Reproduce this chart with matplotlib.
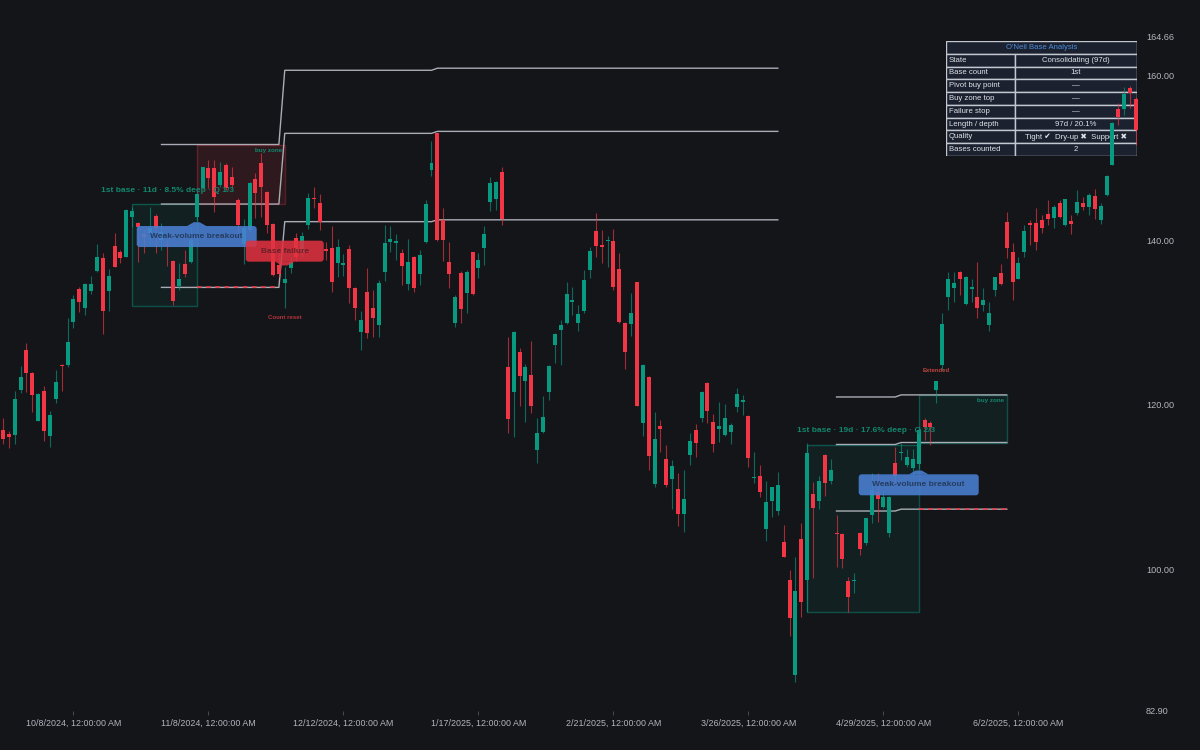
"""O'Neil base analysis chart: daily candles, base boxes, pivot levels and a status table."""

import numpy as np
import pandas as pd
import matplotlib
matplotlib.use("Agg")
import matplotlib.pyplot as plt
from matplotlib.patches import Rectangle, FancyBboxPatch, Polygon
from matplotlib.transforms import Affine2D

# ---------------------------------------------------------------- data
START_DATE = "2024-09-20"
HOLIDAYS = ["2024-11-28", "2024-12-25", "2025-01-01", "2025-01-09", "2025-01-20",
            "2025-02-17", "2025-04-18", "2025-05-26", "2025-06-19"]

OPEN = [
    116.97, 116.44, 116.36, 121.82, 126.67, 123.88, 118.10, 121.66, 116.28, 120.73,
    124.89, 124.81, 130.10, 134.02, 131.76, 133.82, 136.28, 137.78, 133.86, 139.27,
    138.54, 137.98, 142.75, 142.02, 140.70, 140.80, 142.90, 140.00, 139.40, 137.49,
    134.46, 137.09, 137.29, 142.80, 146.27, 148.69, 148.69, 146.67, 149.10, 147.60,
    144.85, 139.50, 141.22, 147.36, 149.30, 145.86, 141.94, 137.00, 134.83, 136.57,
    140.30, 138.50, 141.82, 145.14, 144.53, 138.87, 139.00, 137.26, 136.97, 138.87,
    134.15, 128.89, 133.74, 131.72, 129.70, 136.16, 139.80, 139.60, 138.46, 134.67,
    137.98, 135.88, 139.80, 148.48, 152.93, 142.42, 137.29, 129.90, 135.96, 133.54,
    138.50, 136.57, 139.07, 144.60, 144.93, 148.28, 124.65, 121.62, 126.46, 122.95,
    123.64, 114.54, 116.77, 121.62, 127.27, 129.09, 129.90, 132.44, 129.90, 131.43,
    136.36, 141.13, 139.39, 139.88, 139.92, 136.45, 129.90, 129.82, 134.87, 117.86,
    123.44, 110.42, 117.46, 113.41, 111.03, 109.78, 106.79, 113.94, 116.97, 118.38,
    122.71, 117.94, 117.09, 116.36, 116.77, 119.72, 120.40, 118.67, 111.19, 111.39,
    104.93, 108.41, 107.19, 103.44, 98.79, 87.27, 103.72, 98.79, 109.21, 108.40,
    113.94, 110.83, 104.53, 104.36, 98.71, 98.67, 104.44, 103.31, 106.67, 109.49,
    107.68, 104.44, 113.01, 114.14, 112.73, 112.32, 112.85, 118.18, 117.78, 121.82,
    124.85, 133.05, 134.14, 136.16, 132.24, 134.10, 133.05, 132.12, 129.69, 133.94,
    135.96, 142.22, 138.58, 135.27, 138.58, 142.10, 142.10, 142.42, 143.15, 142.62,
    144.52, 141.81, 142.34, 143.23, 144.44, 143.96, 145.33, 142.42, 145.45, 149.09,
    155.83, 155.83, 158.38, 157.05,
]
HIGH = [
    118.46, 116.81, 121.66, 124.77, 127.51, 123.96, 121.41, 122.26, 119.23, 124.20,
    124.93, 130.50, 133.33, 134.34, 134.83, 135.64, 139.51, 138.38, 136.48, 140.81,
    138.79, 143.72, 144.04, 142.18, 141.30, 144.00, 143.20, 142.10, 140.00, 137.55,
    137.17, 138.79, 141.62, 145.90, 148.89, 149.70, 149.70, 149.50, 149.30, 148.89,
    145.05, 142.50, 147.08, 148.09, 150.51, 145.94, 142.02, 138.60, 136.77, 137.78,
    140.80, 141.00, 145.74, 146.47, 145.58, 139.80, 141.70, 140.08, 138.31, 139.40,
    134.35, 131.44, 136.57, 133.94, 135.16, 141.82, 141.70, 140.73, 138.87, 140.12,
    138.06, 138.79, 144.85, 152.04, 153.01, 143.84, 139.76, 133.33, 136.24, 136.36,
    138.58, 138.38, 141.70, 147.60, 147.19, 148.80, 128.28, 129.01, 126.87, 124.97,
    127.80, 118.38, 121.09, 124.81, 128.69, 130.30, 134.87, 134.26, 132.12, 136.36,
    139.11, 143.31, 141.21, 140.53, 141.33, 138.47, 130.10, 133.54, 134.95, 124.97,
    123.52, 119.15, 118.18, 115.19, 113.33, 111.72, 112.12, 116.65, 117.66, 121.74,
    122.79, 118.91, 120.32, 120.12, 117.86, 122.10, 121.21, 118.75, 114.34, 112.73,
    110.79, 110.10, 111.84, 105.46, 100.00, 101.62, 105.74, 115.35, 110.71, 111.39,
    114.06, 113.41, 106.67, 104.44, 99.19, 99.60, 104.65, 106.34, 111.72, 111.72,
    109.70, 108.97, 114.87, 115.35, 114.63, 114.63, 117.37, 118.46, 118.06, 122.95,
    131.11, 136.16, 136.16, 136.28, 135.64, 135.23, 137.37, 134.14, 132.52, 135.55,
    137.09, 143.43, 139.59, 137.98, 141.82, 142.42, 143.83, 143.03, 144.84, 144.24,
    144.84, 145.01, 143.03, 146.06, 145.25, 145.73, 146.14, 144.52, 147.87, 154.34,
    156.56, 158.50, 158.66, 157.37,
]
LOW = [
    115.27, 114.75, 115.27, 121.49, 121.62, 119.11, 118.02, 115.68, 114.95, 120.20,
    121.70, 124.65, 129.29, 131.27, 130.87, 133.49, 136.16, 128.61, 131.43, 136.69,
    137.17, 137.90, 141.62, 137.37, 138.40, 139.50, 138.40, 138.80, 136.80, 132.10,
    133.94, 135.47, 137.17, 142.30, 146.19, 146.27, 143.44, 146.47, 146.06, 146.47,
    140.81, 137.10, 141.02, 142.63, 142.83, 140.81, 135.64, 135.50, 131.72, 135.96,
    137.50, 138.00, 141.30, 143.84, 141.22, 137.58, 133.74, 135.56, 135.68, 132.41,
    130.31, 126.67, 128.08, 128.29, 128.29, 135.07, 138.60, 137.57, 134.54, 133.94,
    133.74, 134.54, 139.60, 147.76, 139.92, 137.49, 134.14, 129.41, 129.98, 131.19,
    133.33, 135.35, 136.97, 143.55, 143.64, 141.82, 116.57, 116.16, 119.88, 117.98,
    119.07, 112.93, 116.57, 120.60, 125.05, 124.85, 129.82, 130.91, 129.01, 131.11,
    135.35, 137.90, 137.17, 136.77, 133.94, 129.98, 124.32, 128.37, 119.88, 116.28,
    112.12, 110.02, 114.34, 110.02, 107.35, 105.33, 104.61, 112.73, 113.66, 117.98,
    117.86, 114.34, 115.56, 116.28, 115.27, 119.19, 118.79, 112.53, 110.51, 108.89,
    103.52, 106.38, 106.67, 101.54, 92.00, 86.46, 94.34, 94.95, 98.99, 107.35,
    108.97, 110.42, 100.32, 100.20, 94.95, 97.17, 101.82, 103.03, 105.66, 105.86,
    107.47, 103.96, 110.71, 113.33, 112.44, 111.23, 112.20, 115.76, 115.15, 120.20,
    124.24, 131.51, 132.53, 133.33, 132.12, 132.53, 130.50, 131.43, 129.00, 133.21,
    134.54, 137.77, 132.72, 135.23, 137.90, 139.39, 138.78, 140.80, 141.81, 141.41,
    142.62, 141.73, 140.72, 143.03, 143.63, 143.03, 142.50, 141.94, 145.33, 149.05,
    153.94, 155.15, 155.96, 151.51,
]
CLOSE = [
    115.84, 116.12, 120.73, 123.35, 123.92, 121.25, 121.33, 116.85, 118.75, 122.75,
    124.73, 127.64, 132.85, 132.48, 134.71, 134.71, 137.98, 131.43, 135.64, 136.77,
    137.82, 143.64, 143.47, 141.53, 140.40, 141.50, 141.40, 141.00, 139.30, 132.65,
    135.31, 135.88, 140.00, 145.60, 148.81, 147.48, 145.26, 148.29, 146.27, 146.67,
    141.82, 141.50, 146.95, 145.74, 146.47, 141.82, 135.76, 135.90, 135.24, 137.38,
    138.00, 140.50, 145.05, 144.93, 142.23, 138.63, 134.95, 139.20, 137.26, 134.15,
    131.80, 130.31, 128.77, 130.51, 134.75, 139.60, 140.12, 139.88, 136.85, 137.37,
    134.14, 138.18, 144.36, 149.37, 140.00, 140.00, 135.84, 133.13, 131.63, 136.16,
    133.45, 137.58, 140.73, 146.95, 147.07, 142.50, 118.30, 128.89, 123.51, 124.65,
    119.92, 116.57, 118.50, 124.73, 128.57, 129.70, 133.45, 132.73, 131.03, 135.15,
    138.71, 139.31, 139.19, 140.00, 134.26, 130.10, 126.47, 131.11, 119.92, 124.85,
    113.86, 115.88, 117.09, 110.30, 112.61, 106.75, 108.61, 115.68, 115.35, 121.62,
    119.32, 115.27, 117.46, 118.42, 117.58, 121.33, 120.61, 113.62, 111.31, 109.49,
    108.28, 110.02, 110.30, 101.62, 94.14, 97.49, 96.16, 114.22, 107.47, 110.83,
    110.59, 112.12, 104.32, 101.29, 96.77, 98.79, 102.50, 106.26, 109.70, 108.57,
    108.89, 108.89, 111.39, 114.34, 113.74, 113.41, 116.97, 117.29, 117.29, 122.91,
    129.82, 135.23, 134.75, 135.23, 135.47, 134.34, 131.72, 132.73, 131.19, 135.47,
    134.66, 138.99, 134.95, 137.25, 141.13, 141.81, 139.79, 141.41, 142.50, 144.04,
    142.74, 144.93, 141.94, 144.64, 143.96, 145.45, 143.71, 144.12, 147.79, 154.22,
    154.95, 157.69, 157.85, 153.33,
]

# bases found: first bar, last bar, pivot (box top), base low (box bottom)
BASE_START = [22, 137]
BASE_END = [33, 156]
BASE_PIVOT = [144.36, 115.20]
BASE_LOW = [132.00, 94.90]
BASE_LABELS = ["1st base · 11d · 8.5% deep · Q 1/3",
               "1st base · 19d · 17.6% deep · Q 2/3"]

# buy zones drawn after each breakout
ZONE_START = [33, 156]
ZONE_END = [48, 171]
ZONE_FAILED = [True, False]

# pivot level segments; buy-zone top and failure stop follow from the pivot
LEVEL_START = [27, 48, 74, 142, 153]
LEVEL_END = [47, 73, 132, 152, 171]
LEVEL_PIVOT = [144.36, 152.93, 153.17, 115.21, 115.45]
BUY_ZONE_PCT = 0.05
STOP_PCT = 0.07

# failure stop is "armed" (red dashes) over these bars
STOP_ARMED_START = [33, 156]
STOP_ARMED_END = [47, 171]

BREAKOUT_BARS = [33, 156]
FAILURE_BAR = 48
EXTENDED_BAR = 159

Y_TICKS = [82.90, 100, 120, 140, 160, 164.66]
Y_LIMITS = (82.90, 164.66)
TICK_EVERY = 23
FIRST_TICK = 12

TABLE_TITLE = "O'Neil Base Analysis"
TABLE_KEYS = ["State", "Base count", "Pivot buy point", "Buy zone top",
              "Failure stop", "Length / depth", "Quality", "Bases counted"]
TABLE_VALUES = ["Consolidating (97d)", "1st", "—", "—", "—", "97d / 20.1%",
                "Tight ✔  Dry-up ✖  Support ✖", "2"]

# ---------------------------------------------------------------- style
BG = "#141519"
UP = "#089981"
DOWN = "#f23645"
LEVEL_GRAY = "#a9acb4"
TEXT = "#b2b5be"
BASE_TEXT = "#11876d"

plt.rcParams["font.family"] = ["Liberation Sans", "DejaVu Sans"]

open_ = np.array(OPEN)
high = np.array(HIGH)
low = np.array(LOW)
close = np.array(CLOSE)
n = len(open_)
x = np.arange(n)
dates = pd.bdate_range(start=START_DATE, periods=n, freq="C", holidays=HOLIDAYS)

W, H = 1200, 750
fig = plt.figure(figsize=(W / 100, H / 100), dpi=100, facecolor=BG)
ax = fig.add_axes([0, 1 - 711 / H, 1139 / W, 674.4 / H], zorder=2)
ax.patch.set_visible(False)
ax.set_xlim(-0.51, 193.53)
ax.set_ylim(*Y_LIMITS)
for s in ax.spines.values():
    s.set_visible(False)

# pivot series per bar -> three level lines
pivot = np.full(n, np.nan)
for s, e, p in zip(LEVEL_START, LEVEL_END, LEVEL_PIVOT):
    pivot[s:e + 1] = p
zone_top = pivot * (1 + BUY_ZONE_PCT)
stop = pivot * (1 - STOP_PCT)
for series in (zone_top, pivot, stop):
    ax.plot(x, series, color=LEVEL_GRAY, linewidth=1.0, zorder=2)
for s, e in zip(STOP_ARMED_START, STOP_ARMED_END):
    ax.plot(x[s:e + 1], stop[s:e + 1], color=DOWN, linewidth=1.1,
            dashes=(3, 3), zorder=2.1)

# base boxes
for s, e, top, bot, label in zip(BASE_START, BASE_END, BASE_PIVOT, BASE_LOW, BASE_LABELS):
    ax.add_patch(Rectangle((s, bot), e - s, top - bot, facecolor=UP, alpha=0.09,
                           edgecolor="none", zorder=1))
    ax.add_patch(Rectangle((s, bot), e - s, top - bot, facecolor="none",
                           edgecolor=UP, alpha=0.45, linewidth=1.0, zorder=1.1))
    ax.annotate(label, xy=((s + e) / 2 + 0.5, top), xytext=(0, 10),
                textcoords="offset points", ha="center", va="center",
                fontsize=6, fontweight="bold", color=BASE_TEXT, zorder=5)

# buy zones
for s, e, failed in zip(ZONE_START, ZONE_END, ZONE_FAILED):
    bot = pivot[s]
    top = zone_top[s]
    c = DOWN if failed else UP
    ax.add_patch(Rectangle((s, bot), e - s, top - bot, facecolor=c,
                           alpha=0.12 if failed else 0.09, edgecolor="none", zorder=1))
    ax.add_patch(Rectangle((s, bot), e - s, top - bot, facecolor="none",
                           edgecolor=c, alpha=0.3 if failed else 0.45,
                           linewidth=1.0, zorder=1.1))
    ax.annotate("buy zone", xy=(e, top), xytext=(-2, -4), textcoords="offset points",
                ha="right", va="center", fontsize=4.5, fontweight="bold",
                color=BASE_TEXT, zorder=5)

# candles
up = close >= open_
colors = np.where(up, UP, DOWN)
ax.vlines(x, low, high, colors=colors, linewidth=0.8, alpha=0.65, zorder=3)
body_lo = np.minimum(open_, close)
body_h = np.maximum(np.abs(close - open_), 0.12)
ax.bar(x, body_h, bottom=body_lo, width=0.68, color=colors, linewidth=0, zorder=4)


def callout(xv, yv, text, face, ink, width, below):
    """TradingView-style label with a small pointer, sized in pixels."""
    px, py = ax.transData.transform((xv, yv))
    tr = Affine2D().translate(px, py)
    sgn = -1 if below else 1
    y0 = -26 if below else 5
    ax.add_patch(FancyBboxPatch((-width / 2, y0), width, 21,
                                boxstyle="round,pad=0,rounding_size=3",
                                transform=tr, facecolor=face, edgecolor="none",
                                alpha=0.88, zorder=6))
    ax.add_patch(Polygon([(-10, sgn * 5.2), (-3, sgn * 1.2), (3, sgn * 1.2), (10, sgn * 5.2)],
                         closed=True, transform=tr, facecolor=face, edgecolor="none",
                         alpha=0.88, zorder=6))
    ax.text(0, sgn * 15.5, text, transform=tr, ha="center", va="center",
            fontsize=6, fontweight="bold", color=ink, zorder=7)


for b in BREAKOUT_BARS:
    callout(b, low[b], "Weak-volume breakout", "#4a80d4", "#263c60", 120, below=True)
callout(FAILURE_BAR, high[FAILURE_BAR], "Base failure", "#e0313f", "#6a2129", 78, below=False)

ax.annotate("Count reset", xy=(FAILURE_BAR, low[FAILURE_BAR]), xytext=(0, -6.5),
            textcoords="offset points", ha="center", va="center",
            fontsize=4.3, fontweight="bold", color="#b3343d", zorder=5)
ax.annotate("Extended", xy=(EXTENDED_BAR, high[EXTENDED_BAR]), xytext=(0, 7),
            textcoords="offset points", ha="center", va="center",
            fontsize=4.3, fontweight="bold", color="#c0443f", zorder=5)

# axes ticks
ax.yaxis.tick_right()
ax.set_yticks(Y_TICKS)
ax.set_yticklabels([f"{v:.2f}" for v in Y_TICKS])
ax.tick_params(axis="y", length=0, pad=5, labelsize=6.6, labelcolor=TEXT)
tick_pos = list(range(FIRST_TICK, n, TICK_EVERY))
ax.set_xticks(tick_pos)
ax.set_xticklabels([f"{dates[i].month}/{dates[i].day}/{dates[i].year}, 12:00:00 AM"
                    for i in tick_pos])
ax.tick_params(axis="x", length=3, width=0.6, color="#50535b", pad=2.5,
               labelsize=6.4, labelcolor=TEXT)

# status table (under the candles)
tab = fig.add_axes([946 / W, 1 - 156 / H, 191 / W, 115 / H], zorder=1)
tab.set_xlim(0, 191)
tab.set_ylim(115, 0)
tab.axis("off")
rh = 115 / 9
cell = dict(facecolor="#1c2130", edgecolor="#c3c7cf", linewidth=1.0)
tab.add_patch(Rectangle((0, 0), 191, rh, **cell))
tab.text(95.5, rh / 2, TABLE_TITLE, ha="center", va="center", fontsize=5.6, color="#4a8ddb")
for r, (k, v) in enumerate(zip(TABLE_KEYS, TABLE_VALUES), start=1):
    tab.add_patch(Rectangle((0, r * rh), 69, rh, **cell))
    tab.add_patch(Rectangle((69, r * rh), 122, rh, **cell))
    tab.text(3, (r + 0.5) * rh, k, ha="left", va="center", fontsize=5.6, color="#dfe2e8")
    tab.text(130, (r + 0.5) * rh, v, ha="center", va="center", fontsize=5.6, color="#dfe2e8")

fig.savefig("out.png", dpi=100, facecolor=BG)
